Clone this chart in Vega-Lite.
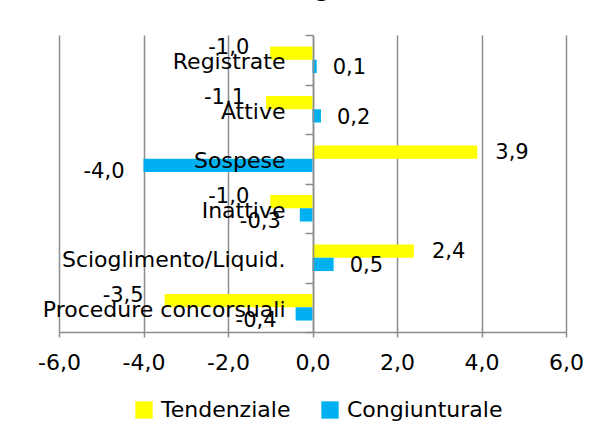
{
  "$schema": "https://vega.github.io/schema/vega-lite/v6.json",
  "width": 507,
  "height": 297,
  "autosize": {"type": "none"},
  "padding": {"left": 59, "top": 35, "right": 43, "bottom": 105},
  "background": "white",
  "config": {
    "locale": {"number": {"decimal": ",", "thousands": ".", "grouping": [3], "currency": ["", " €"], "minus": "-"}},
    "font": "DejaVu Sans",
    "view": {"stroke": null},
    "text": {"fontSize": 21, "color": "black"}
  },
  "title": {"text": "(agricolo)", "fontSize": 22, "fontWeight": "bold", "baseline": "alphabetic", "offset": 0, "dy": -5, "dx": 37, "anchor": "middle", "color": "black"},
  "data": {"values": [
    {"categoria": "Registrate", "serie": "Tendenziale", "valore": -1.0},
    {"categoria": "Registrate", "serie": "Congiunturale", "valore": 0.1},
    {"categoria": "Attive", "serie": "Tendenziale", "valore": -1.1},
    {"categoria": "Attive", "serie": "Congiunturale", "valore": 0.2},
    {"categoria": "Sospese", "serie": "Tendenziale", "valore": 3.9},
    {"categoria": "Sospese", "serie": "Congiunturale", "valore": -4.0},
    {"categoria": "Inattive", "serie": "Tendenziale", "valore": -1.0},
    {"categoria": "Inattive", "serie": "Congiunturale", "valore": -0.3},
    {"categoria": "Scioglimento/Liquid.", "serie": "Tendenziale", "valore": 2.4},
    {"categoria": "Scioglimento/Liquid.", "serie": "Congiunturale", "valore": 0.5},
    {"categoria": "Procedure concorsuali", "serie": "Tendenziale", "valore": -3.5},
    {"categoria": "Procedure concorsuali", "serie": "Congiunturale", "valore": -0.4}
  ]},
  "encoding": {
    "y": {
      "field": "categoria", "type": "nominal",
      "sort": ["Registrate", "Attive", "Sospese", "Inattive", "Scioglimento/Liquid.", "Procedure concorsuali"],
      "scale": {"paddingInner": 0, "paddingOuter": 0},
      "axis": {"orient": "left", "offset": -254, "title": null, "domainColor": "#8c8c8c", "domainWidth": 1.5, "tickColor": "#8c8c8c", "tickWidth": 1.5, "tickSize": 8, "tickBand": "extent", "labelPadding": 20, "labelOffset": 2, "labelFontSize": 22, "labelColor": "black", "labelLimit": 0, "zindex": 1, "grid": false}
    },
    "yOffset": {"field": "serie", "type": "nominal", "sort": ["Tendenziale", "Congiunturale"], "scale": {"paddingOuter": 0.86, "paddingInner": 0}},
    "x": {
      "field": "valore", "type": "quantitative",
      "scale": {"domain": [-6, 6], "nice": false},
      "axis": {"values": [-6, -4, -2, 0, 2, 4, 6], "format": ".1f", "title": null, "grid": true, "gridColor": "#8c8c8c", "gridWidth": 1.5, "domainColor": "#8c8c8c", "domainWidth": 1.5, "tickColor": "#8c8c8c", "tickWidth": 1.5, "tickSize": 5, "labelPadding": 15, "labelFontSize": 22, "labelColor": "black", "labelFlush": false, "labelOverlap": false, "zindex": 0}
    }
  },
  "layer": [
    {
      "mark": {"type": "bar"},
      "encoding": {
        "color": {
          "field": "serie", "type": "nominal",
          "scale": {"domain": ["Tendenziale", "Congiunturale"], "range": ["#FFFF00", "#00B0F0"]},
          "legend": {"orient": "none", "legendX": 74, "legendY": 364, "direction": "horizontal", "title": null, "symbolType": "square", "symbolSize": 300, "symbolStrokeWidth": 0, "labelFontSize": 22, "labelColor": "black", "labelOffset": 6, "columnPadding": 28, "labelLimit": 0}
        }
      }
    },
    {
      "transform": [{"filter": "datum.serie == 'Tendenziale' && datum.valore < 0"}],
      "mark": {"type": "text", "align": "right", "baseline": "middle", "dx": -21, "dy": -5},
      "encoding": {"text": {"field": "valore", "type": "quantitative", "format": ".1f"}}
    },
    {
      "transform": [{"filter": "datum.serie == 'Tendenziale' && datum.valore >= 0"}],
      "mark": {"type": "text", "align": "left", "baseline": "middle", "dx": 18, "dy": 1},
      "encoding": {"text": {"field": "valore", "type": "quantitative", "format": ".1f"}}
    },
    {
      "transform": [{"filter": "datum.serie == 'Congiunturale' && datum.valore < 0"}],
      "mark": {"type": "text", "align": "right", "baseline": "middle", "dx": -19, "dy": 7},
      "encoding": {"text": {"field": "valore", "type": "quantitative", "format": ".1f"}}
    },
    {
      "transform": [{"filter": "datum.serie == 'Congiunturale' && datum.valore >= 0"}],
      "mark": {"type": "text", "align": "left", "baseline": "middle", "dx": 16, "dy": 2},
      "encoding": {"text": {"field": "valore", "type": "quantitative", "format": ".1f"}}
    }
  ]
}
